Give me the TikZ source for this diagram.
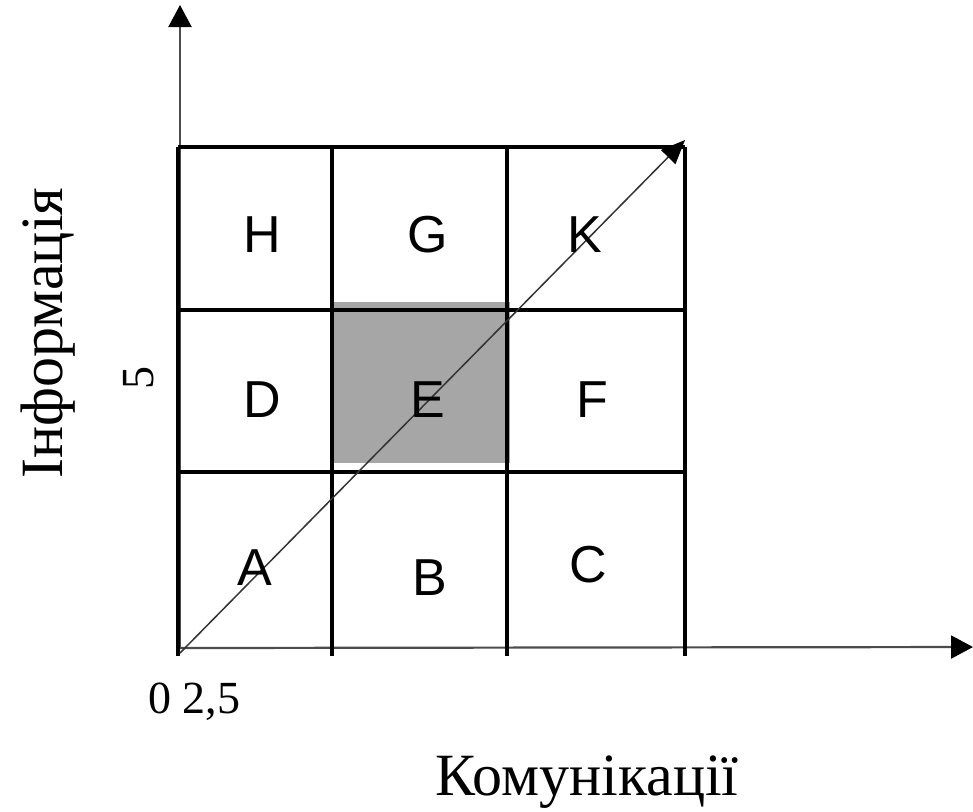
\documentclass[tikz,border=0pt]{standalone}
\usepackage{fontspec}
\setmainfont{Liberation Serif}
\newfontfamily\cellfont{Liberation Sans}
\usetikzlibrary{arrows.meta, positioning, calc}

\begin{document}
\begin{tikzpicture}[
    x=0.5pt, y=-0.5pt,
    grid/.style={line width=1.7pt},
    axis/.style={line width=1.1pt, black!70, -{Triangle[length=11pt, width=11.5pt, color=black]}},
    diag/.style={line width=0.75pt, black!80, -{Triangle[length=12pt, width=10pt, color=black]}},
    cell/.style={font=\cellfont\fontsize{26}{30}\selectfont, inner sep=0pt},
    lbl/.style={font=\fontsize{30}{35}\selectfont, inner sep=0pt},
    tick/.style={font=\fontsize{23}{27}\selectfont, inner sep=0pt}
]
\useasboundingbox (0,0) rectangle (973,811);
% ============== shaded cell E ==================
\fill[black!35] (333,302) rectangle (510,463);
% ============== axes ==================
\coordinate (O) at (178,648);
\coordinate (ytip) at (180,5);
\coordinate (xtip) at (973,647);
\coordinate (dtip) at (685,140);
\coordinate (dstart) at (180,653);
\draw[axis] (180,648) -- (ytip);
\draw[axis] (O) -- (xtip);
% ============== grid 3x3 ==================
\foreach \xx in {178,332,507,685}
  \draw[grid] (\xx,147) -- (\xx,656);
\foreach \yy in {147,310,472}
  \draw[grid] (178,\yy) -- (685,\yy);
% diagonal
\draw[diag] (dstart) -- (dtip);
% ============== cell letters ==================
\node[cell] (H) at (262,235) {H};
\node[cell] (G) at (428,235) {G};
\node[cell] (K) at (585,235) {K};
\node[cell] (D) at (262,400) {D};
\node[cell] (E) at (428,400) {E};
\node[cell] (F) at (592,400) {F};
\node[cell] (A) at (255,568) {A};
\node[cell] (B) at (430,578) {B};
\node[cell] (C) at (588,565) {C};
% ============== labels ==================
\node[lbl, rotate=90, anchor=base] (ylab) at (62,333) {Інформація};
\node[tick, rotate=90, anchor=base] (five) at (153,378) {5};
\node[tick, anchor=base west] (zero) at (148,713) {0 2,5};
\node[lbl, anchor=base] (xlab) at (587,795) {Комунікації};
\end{tikzpicture}
\end{document}
